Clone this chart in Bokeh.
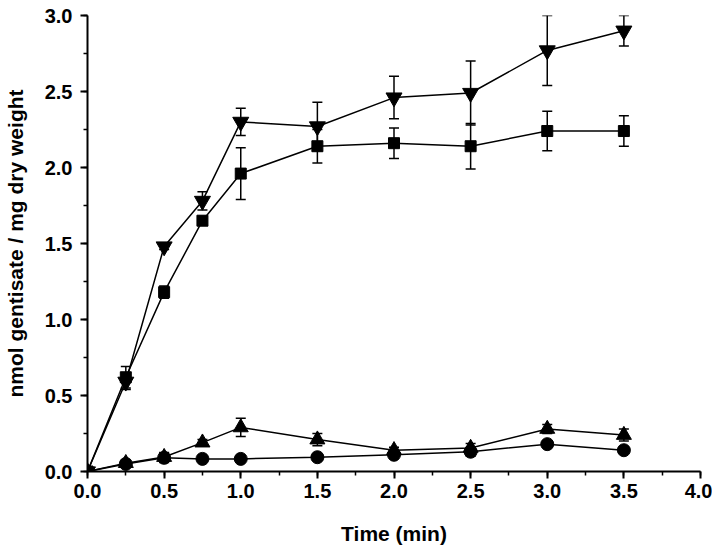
from bokeh.plotting import figure
from bokeh.models import (ColumnDataSource, Whisker, TeeHead, SingleIntervalTicker,
                          NumeralTickFormatter, Range1d)
from bokeh.embed import file_html
from bokeh.resources import INLINE

time = [0.0, 0.25, 0.5, 0.75, 1.0, 1.5, 2.0, 2.5, 3.0, 3.5]

tri_down = [0.0, 0.59, 1.48, 1.78, 2.30, 2.27, 2.46, 2.49, 2.77, 2.90]
tri_down_err = [0.0, 0.05, 0.02, 0.06, 0.09, 0.16, 0.14, 0.21, 0.23, 0.10]

square = [0.0, 0.62, 1.18, 1.65, 1.96, 2.14, 2.16, 2.14, 2.24, 2.24]
square_err = [0.0, 0.07, 0.04, 0.03, 0.17, 0.11, 0.10, 0.15, 0.13, 0.10]

tri_up = [0.0, 0.055, 0.095, 0.19, 0.29, 0.21, 0.14, 0.155, 0.28, 0.24]
tri_up_err = [0.0, 0.02, 0.03, 0.02, 0.06, 0.04, 0.02, 0.03, 0.03, 0.04]

circle = [0.0, 0.05, 0.09, 0.083, 0.083, 0.094, 0.11, 0.13, 0.18, 0.14]
circle_err = [0.0, 0.02, 0.03, 0.01, 0.01, 0.02, 0.02, 0.03, 0.02, 0.02]

x_ticks_interval = 0.5
y_ticks_interval = 0.5

FONT = "Liberation Sans"

p = figure(width=712, height=550, output_backend="svg", toolbar_location=None,
           x_range=Range1d(0, 4), y_range=Range1d(0, 3),
           min_border_left=87, min_border_right=12, min_border_top=15, min_border_bottom=79)

p.outline_line_color = None
p.xgrid.grid_line_color = None
p.ygrid.grid_line_color = None

series = [
    (tri_down, tri_down_err, "inverted_triangle", 16),
    (square, square_err, "square", 11),
    (tri_up, tri_up_err, "triangle", 15),
    (circle, circle_err, "circle", 13),
]

for ys, errs, marker, size in series:
    src = ColumnDataSource(dict(
        x=time, y=ys,
        upper=[a + b for a, b in zip(ys, errs)],
        lower=[a - b for a, b in zip(ys, errs)],
    ))
    w = Whisker(source=src, base="x", upper="upper", lower="lower", dimension="height",
                line_color="black", line_width=1.5,
                upper_head=TeeHead(size=10, line_color="black", line_width=1.5),
                lower_head=TeeHead(size=10, line_color="black", line_width=1.5),
                level="underlay")
    p.add_layout(w)
    p.line("x", "y", source=src, line_color="black", line_width=1.5)
    p.scatter("x", "y", source=src, marker=marker, size=size,
              fill_color="black", line_color="black")

for ax, interval in ((p.xaxis[0], x_ticks_interval), (p.yaxis[0], y_ticks_interval)):
    ax.ticker = SingleIntervalTicker(interval=interval, num_minor_ticks=2)
    ax.formatter = NumeralTickFormatter(format="0.0")
    ax.axis_line_color = "black"
    ax.axis_line_width = 2
    ax.major_tick_line_color = "black"
    ax.major_tick_line_width = 2
    ax.minor_tick_line_color = "black"
    ax.minor_tick_line_width = 1.5
    ax.major_tick_out = 7
    ax.major_tick_in = 0
    ax.minor_tick_out = 4
    ax.minor_tick_in = 0
    ax.major_label_text_font = FONT
    ax.major_label_text_font_size = "20px"
    ax.major_label_text_font_style = "bold"
    ax.major_label_text_color = "black"
    ax.axis_label_text_font = FONT
    ax.axis_label_text_font_size = "21px"
    ax.axis_label_text_font_style = "bold"
    ax.axis_label_text_color = "black"

p.xaxis.axis_label = "Time (min)"
p.yaxis.axis_label = "nmol gentisate / mg dry weight"
p.xaxis.major_label_standoff = 5
p.xaxis.axis_label_standoff = 21
p.yaxis.major_label_standoff = 8
p.yaxis.axis_label_standoff = 15

open("out.html", "w").write(file_html(p, INLINE))
